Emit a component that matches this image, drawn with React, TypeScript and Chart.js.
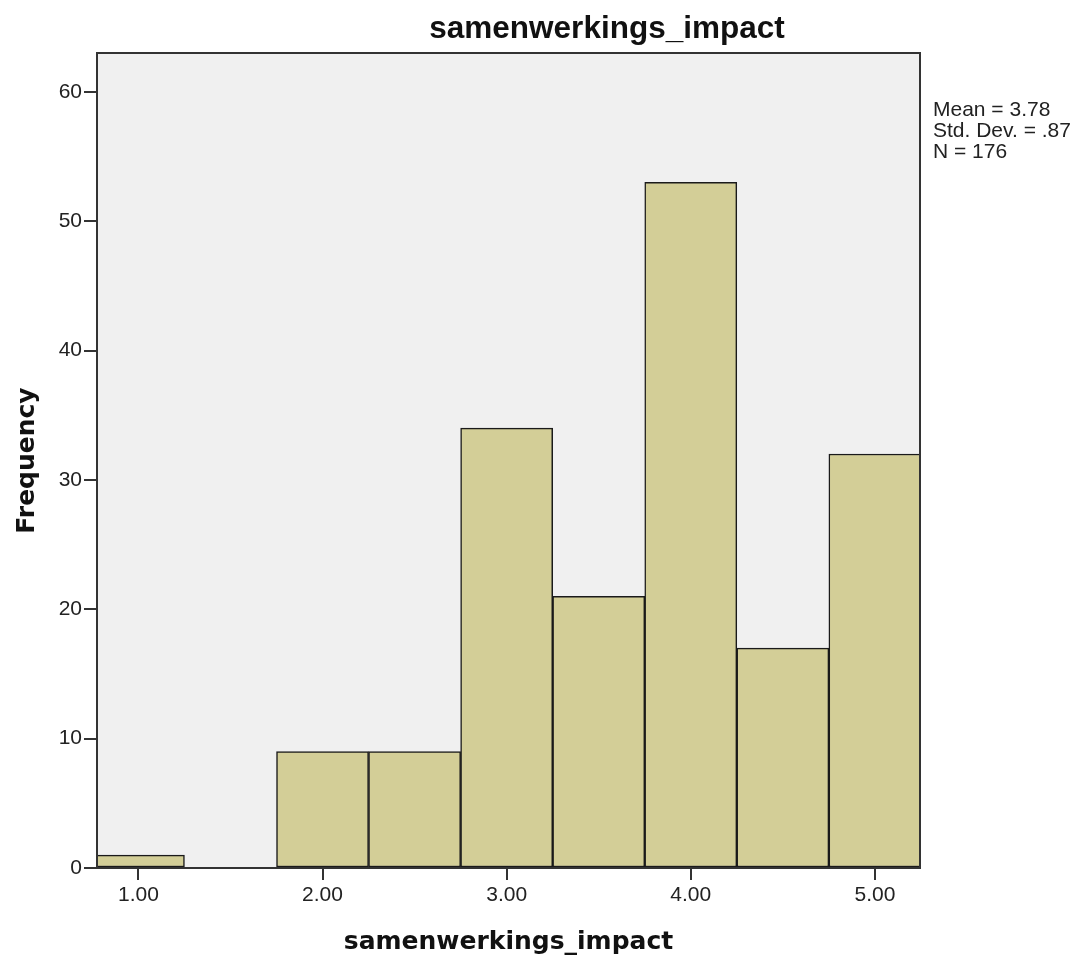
import React, { useEffect, useRef } from "react";
import { Chart, registerables } from "chart.js";

Chart.register(...registerables);

const CHART_TITLE = "samenwerkings_impact";
const X_AXIS_TITLE = "samenwerkings_impact";
const Y_AXIS_TITLE = "Frequency";
const BIN_CENTERS = [1.0, 1.5, 2.0, 2.5, 3.0, 3.5, 4.0, 4.5, 5.0];
const FREQUENCIES = [1, 0, 9, 9, 34, 21, 53, 17, 32];
const X_TICKS = [1, 2, 3, 4, 5];
const Y_TICKS = [0, 10, 20, 30, 40, 50, 60];
const STATS_LINES = ["Mean = 3.78", "Std. Dev. = .87", "N = 176"];
const X_MIN = 0.775;
const X_MAX = 5.245;
const Y_MAX = 63;

const SANS = "'Liberation Sans', Arial, sans-serif";
const WIDE = "'DejaVu Sans', Verdana, sans-serif";

const framePlugin = {
  id: "spssFrame",
  beforeDraw(chart: any) {
    const { ctx, chartArea } = chart;
    ctx.save();
    ctx.fillStyle = "#F0F0F0";
    ctx.fillRect(chartArea.left, chartArea.top, chartArea.right - chartArea.left, chartArea.bottom - chartArea.top);
    ctx.restore();
  },
  afterDatasetsDraw(chart: any) {
    const { ctx, chartArea } = chart;
    ctx.save();
    ctx.strokeStyle = "#333";
    ctx.lineWidth = 2;
    ctx.strokeRect(chartArea.left, chartArea.top, chartArea.right - chartArea.left, chartArea.bottom - chartArea.top);
    ctx.restore();
  },
  afterDraw(chart: any) {
    const { ctx } = chart;
    ctx.save();
    ctx.fillStyle = "#111";
    ctx.font = `bold 31.5px ${SANS}`;
    ctx.textAlign = "center";
    ctx.textBaseline = "alphabetic";
    ctx.fillText(CHART_TITLE, 607, 38);
    ctx.fillStyle = "#222";
    ctx.font = `21px ${SANS}`;
    ctx.textAlign = "left";
    STATS_LINES.forEach((line, i) => {
      ctx.fillText(line, 933, 116 + i * 21);
    });
    ctx.restore();
  },
};

export default function App() {
  const canvasRef = useRef<HTMLCanvasElement | null>(null);

  useEffect(() => {
    const canvas = canvasRef.current;
    if (!canvas) return;
    const chart = new Chart(canvas, {
      type: "bar",
      data: {
        datasets: [
          {
            data: BIN_CENTERS.map((x, i) => ({ x, y: FREQUENCIES[i] })),
            backgroundColor: "#D3CE97",
            borderColor: "#1a1a1a",
            borderWidth: 1.5,
            borderSkipped: false,
            barPercentage: 1,
            categoryPercentage: 1,
          } as any,
        ],
      },
      options: {
        animation: false,
        responsive: true,
        maintainAspectRatio: false,
        layout: { padding: { top: 53, right: 157, left: 0, bottom: 0 } },
        plugins: {
          legend: { display: false },
          tooltip: { enabled: false },
          title: { display: false },
        },
        scales: {
          x: {
            type: "linear",
            min: X_MIN,
            max: X_MAX,
            offset: false,
            afterBuildTicks: (s: any) => {
              s.ticks = X_TICKS.map((v) => ({ value: v }));
            },
            afterFit: (s: any) => {
              s.height = 90;
            },
            grid: {
              display: true,
              offset: false,
              drawOnChartArea: false,
              drawTicks: true,
              tickLength: 12,
              tickColor: "#333",
              lineWidth: 2,
            },
            border: { display: false },
            ticks: {
              callback: (v: any) => Number(v).toFixed(2),
              font: { family: SANS, size: 21 },
              color: "#222",
              padding: 3,
              maxRotation: 0,
              autoSkip: false,
            },
            title: {
              display: true,
              text: X_AXIS_TITLE,
              font: { family: WIDE, size: 25, weight: "bold" },
              color: "#111",
              padding: { top: 0, bottom: 1 },
            },
          },
          y: {
            min: 0,
            max: Y_MAX,
            afterBuildTicks: (s: any) => {
              s.ticks = Y_TICKS.map((v) => ({ value: v }));
            },
            afterFit: (s: any) => {
              s.width = 97;
            },
            grid: {
              display: true,
              drawOnChartArea: false,
              drawTicks: true,
              tickLength: 13,
              tickColor: "#333",
              lineWidth: 2,
            },
            border: { display: false },
            ticks: {
              font: { family: SANS, size: 21 },
              color: "#222",
              padding: 2,
            },
            title: {
              display: true,
              text: Y_AXIS_TITLE,
              font: { family: WIDE, size: 25, weight: "bold" },
              color: "#111",
              padding: { top: 12, bottom: 0 },
            },
          },
        },
      } as any,
      plugins: [framePlugin],
    });
    return () => chart.destroy();
  }, []);

  return (
    <div style={{ position: "fixed", left: 0, top: 0, width: 1077, height: 958, background: "#fff" }}>
      <canvas ref={canvasRef} />
    </div>
  );
}
